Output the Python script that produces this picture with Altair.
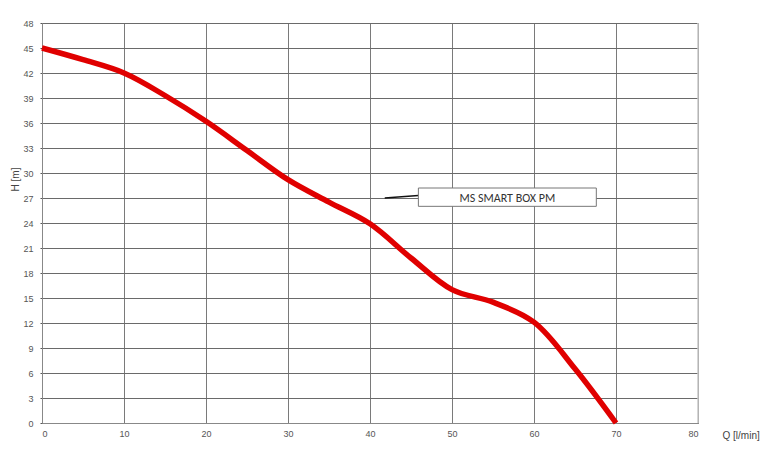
import altair as alt
import pandas as pd

q_vals = [0, 5, 10, 15, 20, 25, 30, 35, 40, 45, 50, 55, 60, 65, 70]
h_vals = [45, 43.6, 42, 39.3, 36.2, 32.7, 29.2, 26.5, 23.9, 19.8, 16, 14.5, 12.1, 6.5, 0]
label_text = "MS SMART BOX PM"
x_ticks = [0, 10, 20, 30, 40, 50, 60, 70, 80]
y_ticks = list(range(0, 49, 3))

curve = pd.DataFrame({"Q": q_vals, "H": h_vals})

xs = alt.Scale(domain=[0, 80], nice=False, zero=False)
ys = alt.Scale(domain=[0, 48], nice=False, zero=False)

x_axis = alt.Axis(values=x_ticks, title="Q [l/min]", grid=True, gridColor="#7a7a7a",
                  gridOpacity=1, gridWidth=1, domainColor="#888", tickSize=0,
                  labelColor="#555", labelFontSize=9, labelPadding=6, labelFont="Arial",
                  labelOverlap=False,
                  titleFont="Arial", titleFontSize=10, titleFontWeight="normal", titleColor="#444",
                  titleX=680, titleY=12, titleAlign="left", titleBaseline="middle")
y_axis = alt.Axis(values=y_ticks, title="H [m]", grid=True, gridColor="#6a6a6a",
                  gridOpacity=1, gridWidth=1, domainColor="#888", tickSize=2, tickColor="#555",
                  labelColor="#555", labelFontSize=9, labelPadding=7, labelFont="Arial",
                  labelOverlap=False,
                  titleFont="Arial", titleFontSize=10, titleFontWeight="normal", titleColor="#444",
                  titleAngle=-90, titleX=-32, titleY=156, titleAlign="center",
                  titleBaseline="top")


def X(field):
    return alt.X(field, scale=xs, axis=x_axis, title="Q [l/min]")


def Y(field):
    return alt.Y(field, scale=ys, axis=y_axis, title="H [m]")


line = alt.Chart(curve).mark_line(color="#e00000", strokeWidth=5.5, interpolate="catmull-rom").encode(
    x=X("Q:Q"), y=Y("H:Q"))

leader = pd.DataFrame({"x": [41.8], "y": [27.0], "x2": [45.9], "y2": [27.3]})
lead = alt.Chart(leader).mark_rule(color="#111", strokeWidth=1.5).encode(
    x=X("x:Q"), y=Y("y:Q"), x2="x2:Q", y2="y2:Q")

box_df = pd.DataFrame({"x": [45.9], "x2": [67.6], "y": [26.0], "y2": [28.2]})
box = alt.Chart(box_df).mark_rect(fill="white", stroke="#777", strokeWidth=1).encode(
    x=X("x:Q"), x2="x2:Q", y=Y("y:Q"), y2="y2:Q")

txt_df = pd.DataFrame({"x": [56.75], "y": [27.05], "t": [label_text]})
txt = alt.Chart(txt_df).mark_text(font="Carlito, 'Open Sans', 'Liberation Sans', Arial", fontSize=12,
                                  color="#333", align="center", baseline="middle").encode(
    x=X("x:Q"), y=Y("y:Q"), text="t:N")

border = alt.Chart(pd.DataFrame({"x": [80], "y": [0], "y2": [48]})).mark_rule(
    color="#c8c8c8", strokeWidth=1.5).encode(
    x=X("x:Q"), y=Y("y:Q"), y2="y2:Q")

chart = alt.layer(line, lead, box, txt, border).properties(
    width=656, height=400,
    autosize=alt.AutoSizeParams(type="none"),
    padding={"left": 34, "top": 15, "right": 67, "bottom": 33},
).configure_view(stroke=None).configure(background="white")

chart.save("out.html", embed_options={"renderer": "svg", "actions": False})
